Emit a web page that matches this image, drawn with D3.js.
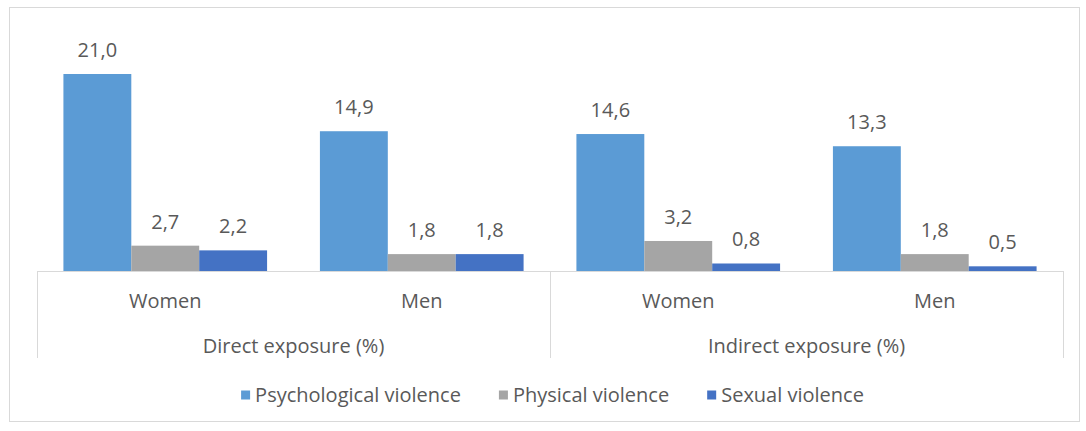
<!DOCTYPE html>
<html>
<head>
<meta charset="utf-8">
<script src="https://cdn.jsdelivr.net/npm/d3@7"></script>
<style>
  html, body { margin: 0; padding: 0; background: #fff; }
  svg { display: block; }
  text { font-family: "Open Sans", sans-serif; fill: #595959; }
</style>
</head>
<body>
<svg id="chart" width="1086" height="431"></svg>
<script>
// ---- data ----
const groups = ["Direct exposure (%)", "Indirect exposure (%)"];
const subCategories = ["Women", "Men"];
const seriesNames = ["Psychological violence", "Physical violence", "Sexual violence"];
const psychological = [21.0, 14.9, 14.6, 13.3];
const physical = [2.7, 1.8, 3.2, 1.8];
const sexual = [2.2, 1.8, 0.8, 0.5];
const colors = ["#5B9BD5", "#A5A5A5", "#4472C4"];

(function () {
const seriesValues = [psychological, physical, sexual];
const categories = [];
groups.forEach((g, gi) => subCategories.forEach((s, si) => categories.push({ group: g, gi, sub: s, key: g + "|" + s })));

const svg = d3.select("#chart");
const FS = 20;

// outer frame
svg.append("rect").attr("x", 9.5).attr("y", 7.5).attr("width", 1070).attr("height", 414)
  .attr("fill", "#fff").attr("stroke", "#d9d9d9").attr("stroke-width", 1);

const plotLeft = 37, plotRight = 1063, baseline = 271, plotTop = 74;
const x0 = d3.scaleBand().domain(categories.map(c => c.key)).range([plotLeft, plotRight]).paddingInner(0.206).paddingOuter(0.103);
const x1 = d3.scaleBand().domain(seriesNames).range([0, x0.bandwidth()]);
const y = d3.scaleLinear().domain([0, 21]).range([baseline, plotTop]);

const fmt = v => v.toFixed(1).replace(".", ",");

// bars
seriesNames.forEach((name, si) => {
  const g = svg.append("g");
  categories.forEach((c, ci) => {
    const v = seriesValues[si][ci];
    g.append("rect")
      .attr("x", x0(c.key) + x1(name))
      .attr("y", y(v))
      .attr("width", x1.bandwidth())
      .attr("height", baseline - y(v))
      .attr("fill", colors[si]);
    g.append("text")
      .attr("x", x0(c.key) + x1(name) + x1.bandwidth() / 2)
      .attr("y", y(v) - 17)
      .attr("text-anchor", "middle")
      .attr("font-size", FS)
      .text(fmt(v));
  });
});

// axis baseline
svg.append("line").attr("x1", plotLeft).attr("x2", plotRight).attr("y1", baseline + 0.5).attr("y2", baseline + 0.5)
  .attr("stroke", "#d9d9d9").attr("stroke-width", 1);

// group separators
const groupScale = d3.scaleBand().domain(groups).range([plotLeft, plotRight]);
const sepXs = [plotLeft].concat(groups.map(g => groupScale(g) + groupScale.bandwidth()));
sepXs.forEach(xv => {
  svg.append("line").attr("x1", Math.round(xv) + 0.5).attr("x2", Math.round(xv) + 0.5)
    .attr("y1", baseline).attr("y2", 358).attr("stroke", "#d9d9d9").attr("stroke-width", 1);
});

// category labels
categories.forEach(c => {
  svg.append("text")
    .attr("x", x0(c.key) + x0.bandwidth() / 2)
    .attr("y", 301)
    .attr("dy", "0.35em")
    .attr("text-anchor", "middle")
    .attr("font-size", FS)
    .text(c.sub);
});
groups.forEach(g => {
  svg.append("text")
    .attr("x", groupScale(g) + groupScale.bandwidth() / 2)
    .attr("y", 346)
    .attr("dy", "0.35em")
    .attr("text-anchor", "middle")
    .attr("font-size", FS)
    .text(g);
});

// legend
const legend = svg.append("g");
const gap = 38;
let lx = 0;
seriesNames.forEach((name, i) => {
  const it = legend.append("g").attr("transform", `translate(${lx},0)`);
  it.append("rect").attr("x", 0).attr("y", -4.5).attr("width", 9).attr("height", 9).attr("fill", colors[i]);
  const t = it.append("text").attr("x", 14).attr("y", 0).attr("dy", "0.35em").attr("font-size", FS).text(name);
  const w = t.node().getComputedTextLength();
  lx += 14 + w + gap;
});
const totalW = lx - gap;
legend.attr("transform", `translate(${552.5 - totalW / 2},395)`);
})();
</script>
</body>
</html>
